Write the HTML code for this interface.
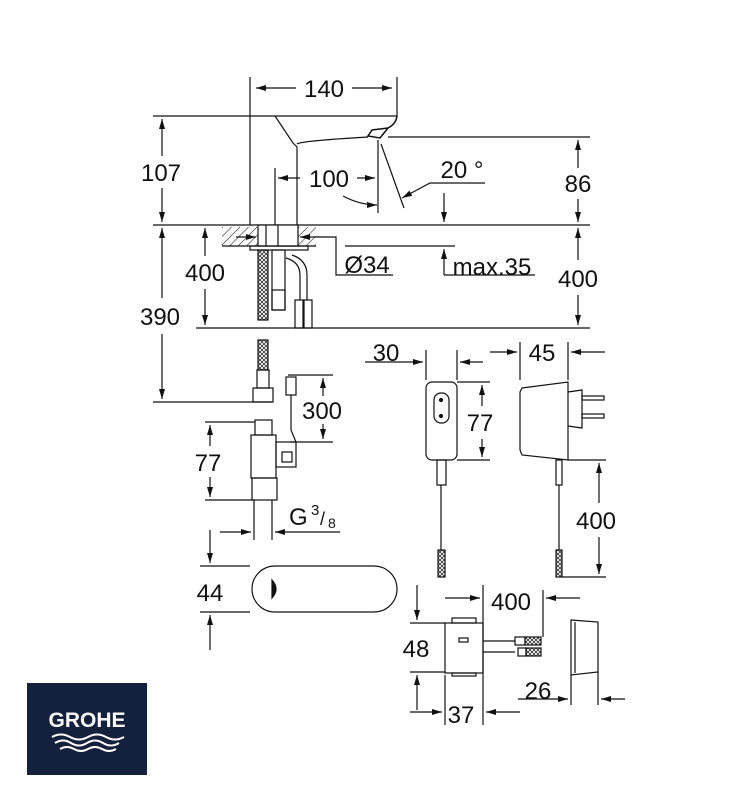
<!DOCTYPE html>
<html><head><meta charset="utf-8"><style>
html,body{margin:0;padding:0;background:#fff;width:750px;height:800px;overflow:hidden}
svg{display:block}
text{font-family:"Liberation Sans",sans-serif;font-size:24px;fill:#111}
</style></head><body>
<svg width="750" height="800" viewBox="0 0 750 800" xmlns="http://www.w3.org/2000/svg">
<defs>
<marker id="a" viewBox="0 0 10 6" refX="10" refY="3" markerWidth="11" markerHeight="6" orient="auto-start-reverse" markerUnits="userSpaceOnUse"><path d="M0,0 L10,3 L0,6z" fill="#111"/></marker>
<pattern id="h" width="6" height="6" patternUnits="userSpaceOnUse" patternTransform="rotate(45)"><line x1="0" y1="0" x2="0" y2="6" stroke="#111" stroke-width="1"/></pattern>
<pattern id="x" width="4" height="4" patternUnits="userSpaceOnUse"><path d="M0,0L4,4M4,0L0,4" stroke="#111" stroke-width="0.7"/></pattern>
</defs>
<g fill="none" stroke="#111" stroke-width="1.2">
<line x1="250" y1="77" x2="250" y2="225"/><line x1="397" y1="77" x2="397" y2="116"/>
<line x1="256" y1="88" x2="296" y2="88" marker-start="url(#a)"/><line x1="352" y1="88" x2="392" y2="88" marker-end="url(#a)"/>
<line x1="153" y1="116" x2="397" y2="116"/>
<path d="M275,116 L293,143 L297,147 L297,225"/>
<path d="M297,144 Q300,141 368,137"/>
<path d="M397,116 Q396,124 388,128 L372,130 L368,136 L380,138 L388,128" stroke-width="1.5"/>
<line x1="388" y1="137" x2="590" y2="137"/>
<line x1="153" y1="225" x2="590" y2="225"/>
<line x1="162" y1="119" x2="162" y2="156" marker-start="url(#a)"/><line x1="162" y1="188" x2="162" y2="222" marker-end="url(#a)"/>
<line x1="578" y1="140" x2="578" y2="168" marker-start="url(#a)"/><line x1="578" y1="199" x2="578" y2="222" marker-end="url(#a)"/>
<line x1="275" y1="168" x2="275" y2="225"/><line x1="378" y1="140" x2="378" y2="213"/>
<line x1="278" y1="178" x2="300" y2="178" marker-start="url(#a)"/><line x1="357" y1="178" x2="375" y2="178" marker-end="url(#a)"/>
<path d="M343,196 Q360,205 377,205" marker-end="url(#a)"/>
<line x1="381" y1="144" x2="404" y2="208"/>
<path d="M485,183 L430,183 L402,198" marker-end="url(#a)"/>
<line x1="444" y1="193" x2="444" y2="222" marker-end="url(#a)"/>
<rect x="222" y="227" width="94" height="19" fill="url(#h)" stroke="none"/>
<line x1="222" y1="246" x2="316" y2="246"/>
<rect x="258" y="225" width="40" height="21" fill="#fff"/>
<line x1="266" y1="225" x2="266" y2="246"/><line x1="278" y1="225" x2="278" y2="246"/>
<rect x="250" y="246" width="58" height="4"/>
<line x1="236" y1="237" x2="256" y2="237" marker-end="url(#a)"/><line x1="316" y1="237" x2="300" y2="237" marker-end="url(#a)"/>
<path d="M316,237 L336,237 L336,275 L393,275"/>
<line x1="345" y1="246" x2="455" y2="246"/>
<line x1="444" y1="275" x2="444" y2="249" marker-end="url(#a)"/>
<line x1="444" y1="275" x2="535" y2="275"/>
<rect x="258" y="250" width="10" height="70" fill="url(#x)"/>
<rect x="272" y="250" width="13" height="60"/>
<rect x="272" y="290" width="13" height="20"/>
<path d="M286,258 Q300,262 300,275 L300,300 M292,255 Q307,260 307,275 L307,300"/>
<rect x="295" y="300" width="8" height="28"/><rect x="304" y="300" width="8" height="28"/>
<line x1="196" y1="328" x2="590" y2="328"/>
<line x1="205" y1="228" x2="205" y2="256" marker-start="url(#a)"/><line x1="205" y1="289" x2="205" y2="325" marker-end="url(#a)"/>
<line x1="578" y1="228" x2="578" y2="260" marker-start="url(#a)"/><line x1="578" y1="295" x2="578" y2="325" marker-end="url(#a)"/>
<line x1="162" y1="228" x2="162" y2="298" marker-start="url(#a)"/><line x1="162" y1="334" x2="162" y2="399" marker-end="url(#a)"/>
<line x1="153" y1="402" x2="272" y2="402"/>
<rect x="258" y="340" width="10" height="30" fill="url(#x)"/>
<rect x="257" y="370" width="12" height="18"/><rect x="253" y="388" width="20" height="14"/>
<rect x="286" y="377" width="10" height="18"/><line x1="291" y1="395" x2="291" y2="430"/><path d="M291,430 L296,442"/>
<line x1="288" y1="375" x2="333" y2="375"/><line x1="290" y1="442" x2="333" y2="442"/>
<line x1="323" y1="396" x2="323" y2="378" marker-end="url(#a)"/><line x1="323" y1="424" x2="323" y2="439" marker-end="url(#a)"/>
<rect x="255" y="420" width="17" height="15"/>
<rect x="251" y="435" width="25" height="43"/>
<rect x="276" y="442" width="20" height="25"/><rect x="282" y="452" width="10" height="10"/>
<rect x="252" y="478" width="25" height="22"/>
<line x1="254" y1="500" x2="254" y2="540"/><line x1="272" y1="500" x2="272" y2="540"/>
<line x1="205" y1="422" x2="255" y2="422"/><line x1="205" y1="500" x2="254" y2="500"/>
<line x1="210" y1="446" x2="210" y2="425" marker-end="url(#a)"/><line x1="210" y1="477" x2="210" y2="497" marker-end="url(#a)"/>
<line x1="220" y1="532" x2="251" y2="532" marker-end="url(#a)"/><line x1="340" y1="532" x2="275" y2="532" marker-end="url(#a)"/>
<rect x="252" y="566" width="145" height="46" rx="23"/>
<path d="M272,580 Q280,589 272,598 Z" fill="#111"/>
<line x1="200" y1="566" x2="250" y2="566"/><line x1="200" y1="612" x2="250" y2="612"/>
<line x1="210" y1="530" x2="210" y2="563" marker-end="url(#a)"/><line x1="210" y1="650" x2="210" y2="615" marker-end="url(#a)"/>
<rect x="426" y="382" width="31" height="78" rx="6"/>
<rect x="434" y="393" width="15" height="30" rx="7"/><circle cx="441" cy="400" r="1.5" fill="#111"/><circle cx="441" cy="416" r="1.5" fill="#111"/>
<rect x="437" y="460" width="9" height="25"/><line x1="441" y1="485" x2="441" y2="550"/>
<rect x="438" y="550" width="7" height="27" fill="url(#x)"/>
<line x1="426" y1="350" x2="426" y2="380"/><line x1="457" y1="350" x2="457" y2="380"/>
<line x1="365" y1="362" x2="423" y2="362" marker-end="url(#a)"/><line x1="483" y1="362" x2="460" y2="362" marker-end="url(#a)"/>
<line x1="457" y1="382" x2="490" y2="382"/><line x1="457" y1="460" x2="490" y2="460"/>
<line x1="482" y1="406" x2="482" y2="385" marker-end="url(#a)"/><line x1="482" y1="439" x2="482" y2="457" marker-end="url(#a)"/>
<path d="M522,388 L568,382 L568,460 L522,455 L520,450 L520,392 Z"/>
<path d="M568,392 L582,390 L582,428 L568,426"/>
<rect x="582" y="396" width="22" height="4"/><rect x="582" y="414" width="22" height="4"/>
<rect x="556" y="460" width="6" height="25"/><line x1="559" y1="485" x2="559" y2="550"/>
<rect x="556" y="550" width="6" height="27" fill="url(#x)"/>
<line x1="520" y1="342" x2="520" y2="380"/><line x1="568" y1="342" x2="568" y2="380"/>
<line x1="490" y1="352" x2="517" y2="352" marker-end="url(#a)"/><line x1="605" y1="352" x2="571" y2="352" marker-end="url(#a)"/>
<line x1="568" y1="460" x2="606" y2="460"/><line x1="562" y1="577" x2="606" y2="577"/>
<line x1="599" y1="503" x2="599" y2="463" marker-end="url(#a)"/><line x1="599" y1="537" x2="599" y2="574" marker-end="url(#a)"/>
<rect x="445" y="623" width="38" height="50"/><rect x="452" y="618" width="24" height="5"/><rect x="452" y="673" width="24" height="3"/>
<rect x="459" y="638" width="9" height="4"/>
<line x1="483" y1="641" x2="515" y2="641"/><line x1="483" y1="652" x2="515" y2="652"/>
<rect x="515" y="637" width="10" height="8"/><rect x="525" y="637" width="16" height="8" fill="url(#x)"/>
<rect x="518" y="648" width="8" height="8"/><rect x="526" y="648" width="15" height="8" fill="url(#x)"/>
<line x1="483" y1="585" x2="483" y2="725"/><line x1="445" y1="675" x2="445" y2="725"/>
<line x1="543" y1="590" x2="543" y2="637"/>
<line x1="445" y1="598" x2="480" y2="598" marker-end="url(#a)"/><line x1="580" y1="598" x2="546" y2="598" marker-end="url(#a)"/>
<line x1="410" y1="623" x2="445" y2="623"/><line x1="410" y1="672" x2="445" y2="672"/>
<line x1="417" y1="585" x2="417" y2="620" marker-end="url(#a)"/><line x1="417" y1="710" x2="417" y2="675" marker-end="url(#a)"/>
<line x1="410" y1="712" x2="442" y2="712" marker-end="url(#a)"/><line x1="520" y1="712" x2="486" y2="712" marker-end="url(#a)"/>
<path d="M571,620 L598,622 L598,672 L571,675 Z"/><line x1="575" y1="622" x2="575" y2="673"/>
<line x1="571" y1="675" x2="571" y2="705"/><line x1="598" y1="672" x2="598" y2="705"/>
<line x1="518" y1="699" x2="568" y2="699" marker-end="url(#a)"/><line x1="625" y1="699" x2="601" y2="699" marker-end="url(#a)"/>
</g>
<g>
<text x="324" y="97" text-anchor="middle">140</text>
<text x="161" y="181" text-anchor="middle">107</text>
<text x="329" y="187" text-anchor="middle">100</text>
<text x="462" y="178" text-anchor="middle">20 °</text>
<text x="578" y="192" text-anchor="middle">86</text>
<text x="367" y="273" text-anchor="middle">Ø34</text>
<text x="492" y="275" text-anchor="middle">max.35</text>
<text x="205" y="281" text-anchor="middle">400</text>
<text x="578" y="287" text-anchor="middle">400</text>
<text x="160" y="325" text-anchor="middle">390</text>
<text x="322" y="419" text-anchor="middle">300</text>
<text x="208" y="471" text-anchor="middle">77</text>
<text x="289" y="525">G</text><text x="311" y="515" style="font-size:15px">3</text><text x="320" y="525" style="font-size:18px">/</text><text x="328" y="528" style="font-size:14px">8</text>
<text x="210" y="601" text-anchor="middle">44</text>
<text x="386" y="361" text-anchor="middle">30</text>
<text x="542" y="361" text-anchor="middle">45</text>
<text x="480" y="431" text-anchor="middle">77</text>
<text x="596" y="529" text-anchor="middle">400</text>
<text x="511" y="610" text-anchor="middle">400</text>
<text x="416" y="657" text-anchor="middle">48</text>
<text x="538" y="699" text-anchor="middle">26</text>
<text x="461" y="723" text-anchor="middle">37</text>
</g>
<rect x="27" y="683" width="120" height="92" fill="#14213d"/>
<text x="87" y="727" text-anchor="middle" style="fill:#fff;font-weight:bold;font-size:21px">GROHE</text>
<g fill="none" stroke="#fff" stroke-width="2">
<path d="M52,737 q9,-5 18,0 t18,0 t18,0 t18,0"/>
<path d="M55,743 q8,-5 16,0 t16,0 t16,0 t16,0"/>
<path d="M60,749 q7,-4 14,0 t14,0 t14,0 t14,0"/>
</g>
</svg>
</body></html>
